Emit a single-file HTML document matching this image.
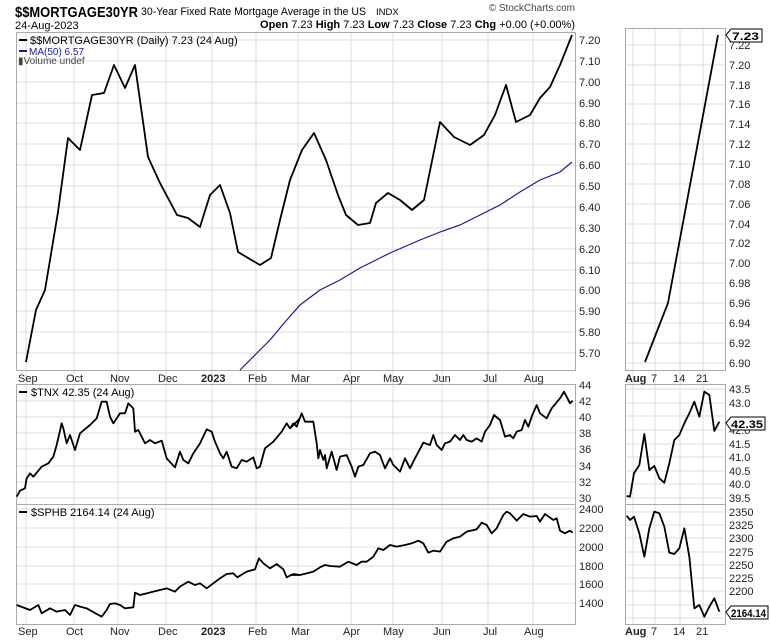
<!DOCTYPE html>
<html><head><meta charset="utf-8"><style>
body{margin:0;background:#fff;width:770px;height:639px;overflow:hidden}
svg{font-family:"Liberation Sans",sans-serif}
.g{stroke:#dcdcdc;stroke-width:1}
.b{fill:none;stroke:#aaa;stroke-width:1}
.s{fill:none;stroke:#000;stroke-width:1.8;vector-effect:non-scaling-stroke;stroke-linejoin:round}
.t{font-size:11px;fill:#222}
.x{font-size:11px;fill:#222}
</style></head><body>
<svg width="770" height="639" viewBox="0 0 770 639">
<text x="15" y="17" font-size="15" font-weight="bold" textLength="123" lengthAdjust="spacingAndGlyphs">$$MORTGAGE30YR</text>
<text x="141" y="15" font-size="11" textLength="225" lengthAdjust="spacingAndGlyphs">30-Year Fixed Rate Mortgage Average in the US</text>
<text x="376" y="15" font-size="9.5">INDX</text>
<text x="575" y="11" font-size="10" text-anchor="end" fill="#444">© StockCharts.com</text>
<text x="15" y="29" font-size="11">24-Aug-2023</text>
<text x="575" y="28" font-size="11" text-anchor="end"><tspan font-weight="bold">Open</tspan> 7.23 <tspan font-weight="bold">High</tspan> 7.23 <tspan font-weight="bold">Low</tspan> 7.23 <tspan font-weight="bold">Close</tspan> 7.23 <tspan font-weight="bold">Chg</tspan> +0.00 (+0.00%)</text>

<g class="g">
<line x1="16" x2="576" y1="40" y2="40"/><line x1="16" x2="576" y1="61" y2="61"/><line x1="16" x2="576" y1="82" y2="82"/><line x1="16" x2="576" y1="103" y2="103"/><line x1="16" x2="576" y1="123" y2="123"/><line x1="16" x2="576" y1="144" y2="144"/><line x1="16" x2="576" y1="165" y2="165"/><line x1="16" x2="576" y1="186" y2="186"/><line x1="16" x2="576" y1="207" y2="207"/><line x1="16" x2="576" y1="228" y2="228"/><line x1="16" x2="576" y1="249" y2="249"/><line x1="16" x2="576" y1="270" y2="270"/><line x1="16" x2="576" y1="290" y2="290"/><line x1="16" x2="576" y1="311" y2="311"/><line x1="16" x2="576" y1="332" y2="332"/><line x1="16" x2="576" y1="353" y2="353"/>
<line x1="16" x2="576" y1="401" y2="401"/><line x1="16" x2="576" y1="417" y2="417"/><line x1="16" x2="576" y1="433" y2="433"/><line x1="16" x2="576" y1="449" y2="449"/><line x1="16" x2="576" y1="466" y2="466"/><line x1="16" x2="576" y1="482" y2="482"/><line x1="16" x2="576" y1="498" y2="498"/>
<line x1="16" x2="576" y1="509" y2="509"/><line x1="16" x2="576" y1="528" y2="528"/><line x1="16" x2="576" y1="547" y2="547"/><line x1="16" x2="576" y1="566" y2="566"/><line x1="16" x2="576" y1="584" y2="584"/><line x1="16" x2="576" y1="603" y2="603"/>
</g>
<g class="g">
<line x1="26" x2="26" y1="32" y2="624"/><line x1="74" x2="74" y1="32" y2="624"/><line x1="118" x2="118" y1="32" y2="624"/><line x1="166" x2="166" y1="32" y2="624"/><line x1="212" x2="212" y1="32" y2="624"/><line x1="256" x2="256" y1="32" y2="624"/><line x1="298" x2="298" y1="32" y2="624"/><line x1="351" x2="351" y1="32" y2="624"/><line x1="393" x2="393" y1="32" y2="624"/><line x1="442" x2="442" y1="32" y2="624"/><line x1="488" x2="488" y1="32" y2="624"/><line x1="533" x2="533" y1="32" y2="624"/>
</g>
<rect class="b" x="16.5" y="32.5" width="559" height="338"/>
<rect class="b" x="16.5" y="384.5" width="559" height="120"/>
<rect class="b" x="16.5" y="504.5" width="559" height="120"/>

<g class="t">
<text x="579" y="44">7.20</text><text x="579" y="65">7.10</text><text x="579" y="86">7.00</text><text x="579" y="107">6.90</text><text x="579" y="127">6.80</text><text x="579" y="148">6.70</text><text x="579" y="169">6.60</text><text x="579" y="190">6.50</text><text x="579" y="211">6.40</text><text x="579" y="232">6.30</text><text x="579" y="253">6.20</text><text x="579" y="274">6.10</text><text x="579" y="294">6.00</text><text x="579" y="315">5.90</text><text x="579" y="336">5.80</text><text x="579" y="357">5.70</text>
<text x="579" y="389">44</text><text x="579" y="405">42</text><text x="579" y="421">40</text><text x="579" y="437">38</text><text x="579" y="453">36</text><text x="579" y="470">34</text><text x="579" y="486">32</text><text x="579" y="502">30</text>
<text x="579" y="513">2400</text><text x="579" y="532">2200</text><text x="579" y="551">2000</text><text x="579" y="570">1800</text><text x="579" y="588">1600</text><text x="579" y="607">1400</text>
</g>
<g class="x">
<text x="18" y="382">Sep</text><text x="66" y="382">Oct</text><text x="110" y="382">Nov</text><text x="158" y="382">Dec</text><text x="201" y="382" font-weight="bold">2023</text><text x="248" y="382">Feb</text><text x="291" y="382">Mar</text><text x="343" y="382">Apr</text><text x="383" y="382">May</text><text x="433" y="382">Jun</text><text x="483" y="382">Jul</text><text x="524" y="382">Aug</text>
<text x="18" y="635">Sep</text><text x="66" y="635">Oct</text><text x="110" y="635">Nov</text><text x="158" y="635">Dec</text><text x="201" y="635" font-weight="bold">2023</text><text x="248" y="635">Feb</text><text x="291" y="635">Mar</text><text x="343" y="635">Apr</text><text x="383" y="635">May</text><text x="433" y="635">Jun</text><text x="483" y="635">Jul</text><text x="524" y="635">Aug</text>
</g>

<polyline class="s" points="26,362 36,310 45,290 58,212 68,138 80,150 92,95 104,93 114,65 125,88 135,65 148,157 160,183 177,215 188,218 200,227 210,195 220,185 230,213 238,252 248,258 260,265 271,258 280,220 290,180 302,150 314,133 326,160 338,195 346,215 358,225 370,223 376,203 388,193 400,200 412,210 424,200 440,122 454,137 470,145 484,135 495,115 506,85 516,122 530,115 540,98 550,87 560,65 572,35"/>
<polyline fill="none" stroke="#1a1a8c" stroke-width="1.2" points="240,370 255,355 270,340 285,322 300,305 320,290 340,280 360,268 390,253 420,240 440,232 460,225 480,215 500,205 520,192 540,180 560,172 572,162"/>
<line x1="19" x2="27" y1="40" y2="40" stroke="#000" stroke-width="2"/>
<text x="30" y="44" font-size="11">$$MORTGAGE30YR (Daily) 7.23 (24 Aug)</text>
<line x1="19" x2="27" y1="51" y2="51" stroke="#1a1a8c" stroke-width="2"/>
<text x="29" y="55" font-size="10" fill="#1a1a8c">MA(50) 6.57</text>
<text x="18" y="64" font-size="10" fill="#444">▮Volume undef</text>

<g transform="translate(0,370) scale(0.33333)">
<polyline class="s" points="50,380 60,362 75,355 80,325 90,310 100,320 125,290 145,280 160,260 170,225 185,160 190,175 200,220 210,195 225,240 240,190 270,165 290,145 305,95 320,95 330,140 340,160 360,130 375,130 385,100 400,115 405,185 415,180 435,220 450,210 465,220 485,212 500,265 525,292 540,245 550,270 565,280 580,250 600,220 620,178 635,185 645,215 660,250 670,265 680,245 695,290 710,295 725,270 740,275 760,262 770,295 780,290 795,235 820,215 845,185 860,160 870,175 900,145"/>
<polyline class="s" points="50,705 90,720 115,705 125,730 150,715 170,725 195,720 210,735 225,705 240,710 260,715 290,732 305,740 320,720 330,702 345,700 360,705 375,715 400,712 405,668 420,675 440,670 460,665 480,660 500,655 525,665 540,650 565,635 585,645 600,640 620,655 660,625 680,612 700,610 712,622 740,605 765,598 777,565 790,580 810,595 830,582 850,598 860,622 880,612 900,615"/>
</g>
<g transform="translate(290,370) scale(0.33333)">
<polyline class="s" points="0,175 10,160 20,170 35,130 45,155 70,155 80,220 85,265 90,240 100,270 105,255 110,295 125,245 140,300 150,260 170,255 185,290 195,320 205,290 220,285 240,250 255,245 270,255 285,295 300,265 310,285 330,305 345,265 360,295 375,265 400,218 420,225 430,195 440,225 455,240 465,220 480,215 495,195 510,210 520,195 530,210 545,215 560,205 575,215 585,185 600,165 612,135 630,150 645,200 660,195 670,205 680,185 695,180 700,165 705,150 715,170 725,140 740,105 750,130 770,145 785,115 810,85 822,65 830,80 840,100 848,92"/>
<polyline class="s" points="0,615 30,615 50,610 70,605 90,592 105,585 120,588 150,590 175,575 200,585 215,575 230,575 250,560 265,535 280,540 300,525 320,530 345,525 365,520 385,512 400,520 415,548 430,542 450,545 470,515 490,505 510,500 530,485 560,478 575,458 590,465 605,490 620,475 640,435 650,425 660,430 680,452 700,432 720,440 740,438 750,455 765,432 790,450 800,445 810,482 825,490 840,482 848,488"/>
</g>
<line x1="19" x2="27" y1="392" y2="392" stroke="#000" stroke-width="2"/>
<text x="31" y="396" font-size="11">$TNX 42.35 (24 Aug)</text>
<line x1="19" x2="27" y1="512" y2="512" stroke="#000" stroke-width="2"/>
<text x="31" y="516" font-size="11">$SPHB 2164.14 (24 Aug)</text>

<g class="g">
<line x1="625" x2="726" y1="45" y2="45"/><line x1="625" x2="726" y1="65" y2="65"/><line x1="625" x2="726" y1="85" y2="85"/><line x1="625" x2="726" y1="104" y2="104"/><line x1="625" x2="726" y1="124" y2="124"/><line x1="625" x2="726" y1="144" y2="144"/><line x1="625" x2="726" y1="164" y2="164"/><line x1="625" x2="726" y1="184" y2="184"/><line x1="625" x2="726" y1="204" y2="204"/><line x1="625" x2="726" y1="224" y2="224"/><line x1="625" x2="726" y1="243" y2="243"/><line x1="625" x2="726" y1="263" y2="263"/><line x1="625" x2="726" y1="283" y2="283"/><line x1="625" x2="726" y1="303" y2="303"/><line x1="625" x2="726" y1="323" y2="323"/><line x1="625" x2="726" y1="343" y2="343"/><line x1="625" x2="726" y1="363" y2="363"/>
<line x1="625" x2="726" y1="389" y2="389"/><line x1="625" x2="726" y1="403" y2="403"/><line x1="625" x2="726" y1="416" y2="416"/><line x1="625" x2="726" y1="430" y2="430"/><line x1="625" x2="726" y1="444" y2="444"/><line x1="625" x2="726" y1="457" y2="457"/><line x1="625" x2="726" y1="471" y2="471"/><line x1="625" x2="726" y1="484" y2="484"/><line x1="625" x2="726" y1="498" y2="498"/>
<line x1="625" x2="726" y1="512" y2="512"/><line x1="625" x2="726" y1="525" y2="525"/><line x1="625" x2="726" y1="538" y2="538"/><line x1="625" x2="726" y1="552" y2="552"/><line x1="625" x2="726" y1="565" y2="565"/><line x1="625" x2="726" y1="578" y2="578"/><line x1="625" x2="726" y1="591" y2="591"/><line x1="625" x2="726" y1="605" y2="605"/><line x1="625" x2="726" y1="618" y2="618"/>
<line x1="633" x2="633" y1="28" y2="624"/><line x1="655" x2="655" y1="28" y2="624"/><line x1="680" x2="680" y1="28" y2="624"/><line x1="703" x2="703" y1="28" y2="624"/>
</g>
<rect class="b" x="625.5" y="28.5" width="100" height="342"/>
<rect class="b" x="625.5" y="384.5" width="100" height="120"/>
<rect class="b" x="625.5" y="504.5" width="100" height="120"/>
<polyline class="s" points="645,362 668,303 718,35"/>
<g transform="translate(560,360) scale(0.33333)">
<polyline class="s" points="200,408 210,410 222,340 238,315 253,222 268,330 283,318 298,355 313,368 328,310 343,240 358,225 373,190 388,160 403,125 418,170 433,95 448,105 463,213 478,185"/>
<polyline class="s" points="200,467 210,480 222,470 238,520 253,590 268,505 283,455 298,460 313,500 328,578 343,582 358,565 373,505 388,590 403,745 418,735 433,770 448,740 463,715 478,755"/>
</g>
<g class="t">
<text x="729" y="49">7.22</text><text x="729" y="69">7.20</text><text x="729" y="89">7.18</text><text x="729" y="108">7.16</text><text x="729" y="128">7.14</text><text x="729" y="148">7.12</text><text x="729" y="168">7.10</text><text x="729" y="188">7.08</text><text x="729" y="208">7.06</text><text x="729" y="228">7.04</text><text x="729" y="247">7.02</text><text x="729" y="267">7.00</text><text x="729" y="287">6.98</text><text x="729" y="307">6.96</text><text x="729" y="327">6.94</text><text x="729" y="347">6.92</text><text x="729" y="367">6.90</text>
<text x="729" y="393">43.5</text><text x="729" y="407">43.0</text><text x="729" y="434">42.0</text><text x="729" y="448">41.5</text><text x="729" y="461">41.0</text><text x="729" y="475">40.5</text><text x="729" y="488">40.0</text><text x="729" y="502">39.5</text>
<text x="729" y="516">2350</text><text x="729" y="529">2325</text><text x="729" y="542">2300</text><text x="729" y="556">2275</text><text x="729" y="569">2250</text><text x="729" y="582">2225</text><text x="729" y="595">2200</text>
</g>
<g font-size="11" font-weight="bold">
<path d="M726,35 l5,-6 h31 v13 h-31 z" fill="#fff" stroke="#000"/><text x="732" y="40" textLength="27" lengthAdjust="spacingAndGlyphs">7.23</text>
<path d="M726,423 l5,-6 h34 v13 h-34 z" fill="#fff" stroke="#000"/><text x="731" y="428" textLength="32" lengthAdjust="spacingAndGlyphs">42.35</text>
<path d="M726,612 l5,-6 h37 v13 h-37 z" fill="#fff" stroke="#000"/><text x="731" y="617" textLength="35" lengthAdjust="spacingAndGlyphs">2164.14</text>
</g>
<g class="x">
<text x="625" y="382" font-weight="bold">Aug</text><text x="651" y="382">7</text><text x="673" y="382">14</text><text x="696" y="382">21</text>
<text x="625" y="635" font-weight="bold">Aug</text><text x="651" y="635">7</text><text x="673" y="635">14</text><text x="696" y="635">21</text>
</g>
</svg>
</body></html>
